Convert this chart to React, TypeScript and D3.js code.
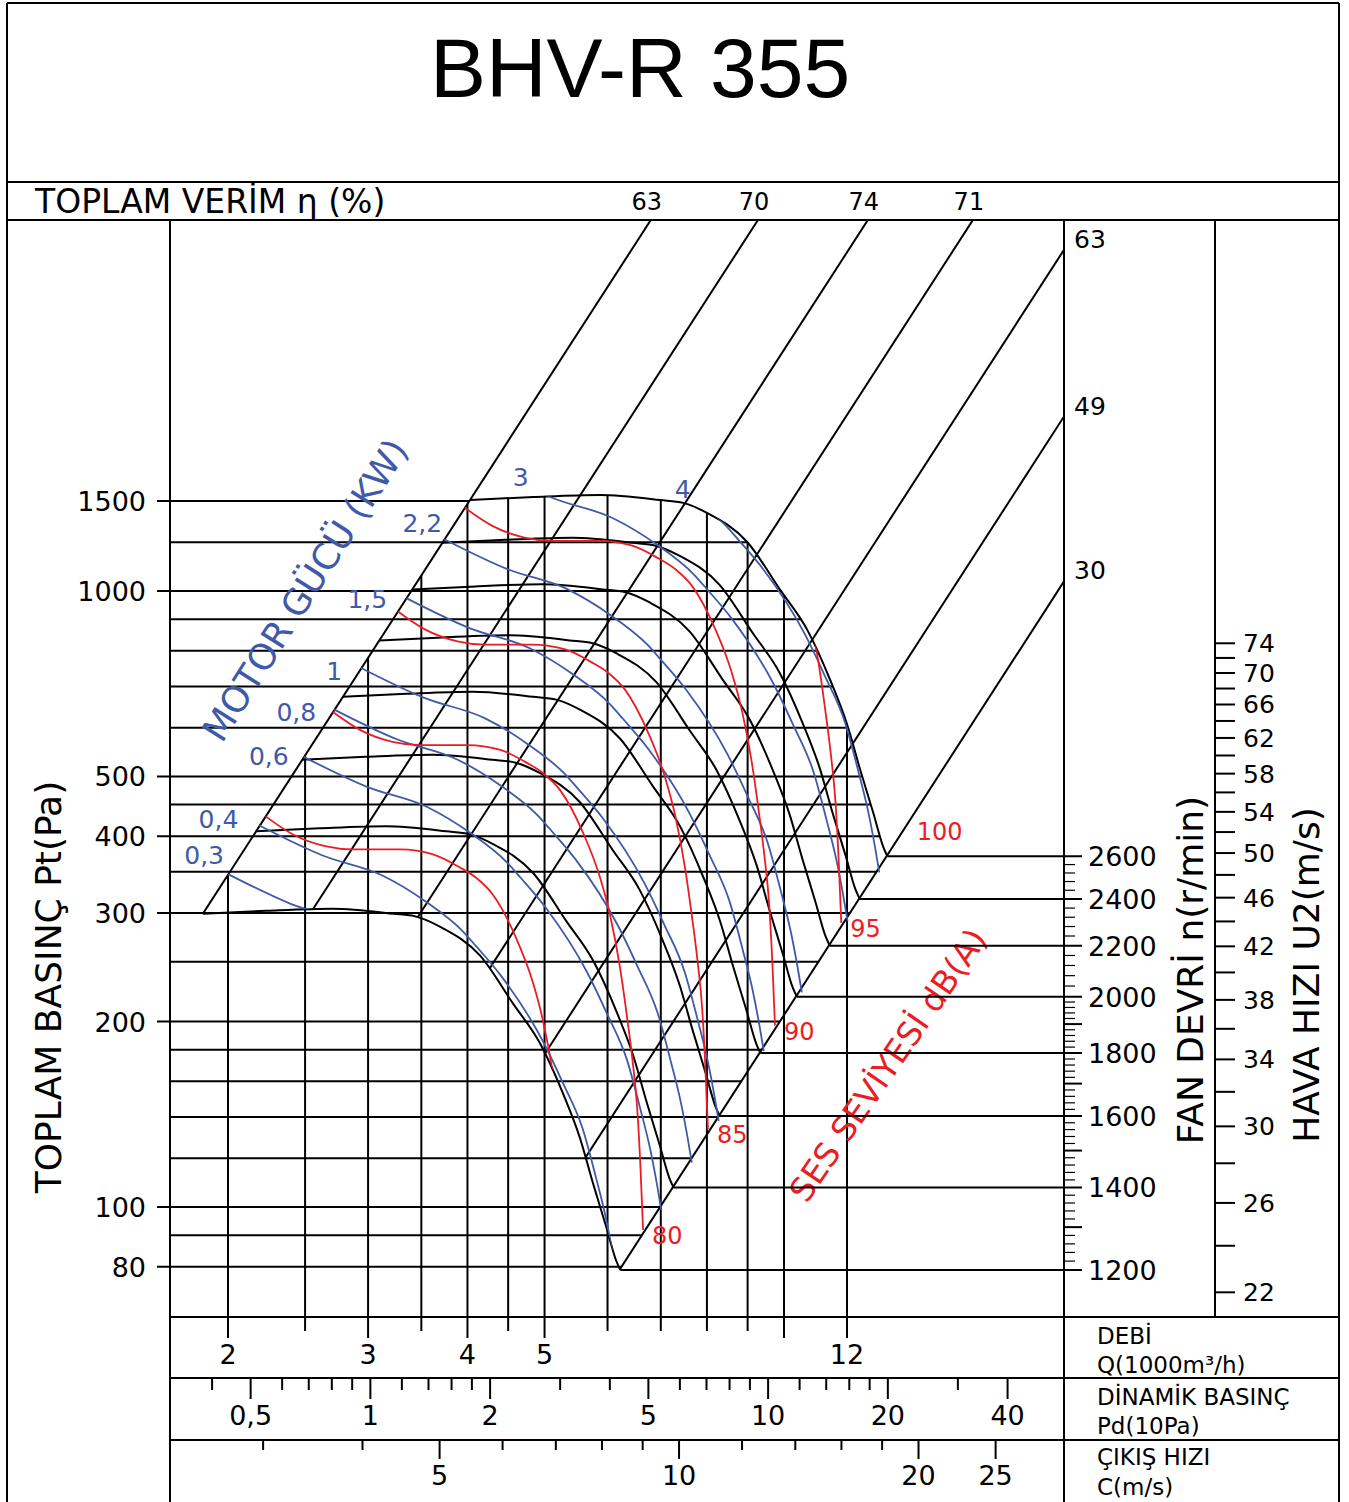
import * as d3 from 'd3';

// 2600 r/min fan curve: Q (1000 m3/h) and Pt (Pa)
const curveQ = [4.03, 4.84, 5.87, 6.99, 7.47, 8.01, 8.99, 9.89, 10.7, 11.43, 12.01, 12.47, 12.95, 13.33, 13.49];
const curveP = [1405, 1421, 1432, 1405, 1390, 1338, 1201, 1004, 864, 717, 606, 512, 436, 384, 371];
const refRpm = 2600;
const rpmList = [1200, 1400, 1600, 1800, 2000, 2200, 2400, 2600];

// efficiency parabolas (P ~ Q^2), each given by the Q where it crosses 300 Pa
const effLabels = ['63', '70', '74', '71', '63', '49', '30'];
const effQ300 = [1.862, 2.539, 3.49, 4.73, 6.51, 8.89, 12.1];

// motor power lines: one shape, placed by the Q where each line leaves the left edge
const kwLabels = ['0,3', '0,4', '0,6', '0,8', '1', '1,5', '2,2', '3', '4'];
const kwStartQ = [2.0, 2.19, 2.49, 2.72, 2.94, 3.35, 3.74, 4.27, 4.68];
const kwShapeQ = [2.49, 2.99, 3.56, 4.03, 4.49, 4.66, 5.01, 5.66, 5.99, 6.35, 6.6, 6.79, 6.93, 7.01];
const kwShapeP = [538, 481, 446, 405, 362, 343, 307, 240, 206, 173, 144, 124, 108, 98.9];

// sound level lines dB(A)
const dbLevels = [75, 80, 85, 90, 95, 100];
const dbStartQ = [2.23, 2.71, 3.27, 3.97, 4.81, 5.83];
const dbLabelLevels = [80, 85, 90, 95, 100];
const dbShapeQ = [2.71, 2.93, 3.22, 3.49, 4.0, 4.4, 4.75, 4.98, 5.23, 5.59, 5.87, 6.05, 6.22, 6.35, 6.45, 6.54, 6.6, 6.65];
const dbShapeP = [636, 595, 569, 562, 562, 552, 526, 506, 475, 405, 343, 296, 245, 203, 173, 144, 116, 91.8];

// grid and axes
const gridP = [80, 90, 100, 120, 140, 160, 180, 200, 250, 300, 350, 400, 450, 500, 600, 700, 800, 900, 1000, 1200, 1400];
const yTickP = [80, 100, 200, 300, 400, 500, 1000, 1400];
const yTickText = ['80', '100', '200', '300', '400', '500', '1000', '1500']; // the chart prints 1500 on this line
const gridQ = [2, 2.5, 3, 3.5, 4, 4.5, 5, 6, 7, 8, 9, 10, 12];
const qLabelValues = [2, 3, 4, 5, 12];
const qLongTicks = [2, 3, 4, 5, 10, 12];
const pdTicks = [0.4, 0.5, 0.6, 0.7, 0.8, 0.9, 1, 1.2, 1.4, 1.6, 1.8, 2, 3, 4, 5, 6, 7, 8, 9, 10, 12, 14, 16, 18, 20, 30, 40];
const pdLabelValues = [0.5, 1, 2, 5, 10, 20, 40];
const pdQAtOne = 3.02;
const cTicks = [3, 4, 5, 6, 7, 8, 9, 10, 12, 14, 16, 18, 20, 25];
const cLabelValues = [5, 10, 20, 25];
const cPerQ = 1.355;
const u2Ticks = [22, 24, 26, 28, 30, 32, 34, 36, 38, 40, 42, 44, 46, 48, 50, 52, 54, 56, 58, 60, 62, 64, 66, 68, 70, 72, 74];
const u2LabelValues = [22, 26, 30, 34, 38, 42, 46, 50, 54, 58, 62, 66, 70, 74];
const u2AtRef = 49.7;

const BLUE = '#3f5aa8';
const RED = '#ec1c24';
const FONT = "'DejaVu Sans', Verdana, sans-serif";

type Pt = [number, number];

export default function App() {
  const x = d3.scaleLog().domain([2, 12]).range([228, 847]);
  const y = d3.scaleLog().domain([100, 1000]).range([1207, 591]);
  const line = d3.line<Pt>().curve(d3.curveMonotoneX);
  const fmt = (v: number) => String(v).replace('.', ',');

  // fan laws: Q ~ n, P ~ n^2
  const toPx = (qs: number[], ps: number[], r: number): Pt[] =>
    qs.map((q, i) => [x(q * r), y(ps[i] * r * r)]);

  const qEnd = curveQ[curveQ.length - 1];
  const pEnd = curveP[curveP.length - 1];
  const top = toPx(curveQ, curveP, 1);
  const low = toPx(curveQ, curveP, rpmList[0] / refRpm);
  const topPath = line(top) as string;
  const lowPath = line(low) as string;
  const asL = (d: string) => 'L' + d.slice(1);
  const parab = (q300: number, p: number) => q300 * Math.sqrt(p / 300);

  const d1 = effQ300[0];
  const d7 = effQ300[effQ300.length - 1];
  const d1Far: Pt = [x(parab(d1, 30)), y(30)];
  const d7Far: Pt = [x(parab(d7, 10)), y(10)];
  const [sx, sy] = top[0];
  const [ex, ey] = top[top.length - 1];
  const [lx, ly] = low[0];
  const [, ley] = low[low.length - 1];

  const clipUnderTop = `M-1000,-1000L${sx},-1000L${sx},${sy}${asL(topPath)}L3000,${ey}L3000,3000L-1000,3000Z`;
  const clipAboveLow = `M-1000,-1000L-1000,${ly}L${lx},${ly}${asL(lowPath)}L3000,${ley}L3000,-1000Z`;
  const clipBelowEnv = `M${d1Far[0]},${d1Far[1]}L${sx},${sy}${asL(topPath)}L3000,${ey}L3000,3000L-1000,3000L-1000,${d1Far[1]}Z`;
  const clipLeftEnv = `M-1000,-1000L${sx},-1000L${sx},${sy}${asL(topPath)}L${ex},${ey}L${d7Far[0]},${d7Far[1]}L-1000,${d7Far[1]}Z`;

  const topY = (px: number) => {
    if (px < top[0][0]) return -Infinity;
    for (let i = 1; i < top.length; i++) {
      if (px <= top[i][0]) {
        const [x0, y0] = top[i - 1];
        const [x1, y1] = top[i];
        return y0 + ((y1 - y0) * (px - x0)) / (x1 - x0);
      }
    }
    return Infinity;
  };
  const firstInside = (pts: Pt[]): Pt => {
    for (let i = 0; i < pts.length; i++) {
      if (pts[i][1] >= topY(pts[i][0])) {
        if (i === 0) return pts[0];
        const [xa, ya] = pts[i - 1];
        const [xb, yb] = pts[i];
        const da = ya - topY(xa);
        const db = yb - topY(xb);
        const t = da / (da - db);
        return [xa + t * (xb - xa), ya + t * (yb - ya)];
      }
    }
    return pts[pts.length - 1];
  };

  const kwLines = kwStartQ.map((q) => toPx(kwShapeQ, kwShapeP, q / kwShapeQ[0]));
  const dbLines = dbStartQ.map((q) => toPx(dbShapeQ, dbShapeP, q / dbShapeQ[0]));
  const kwLabelNudge: Pt[] = [[-4, -10], [-21, 2], [-15, 8], [-18, 11], [-19, 12], [-19, 10], [-2, -7], [-21, -11], [-37, -30]];

  const yRpm = (n: number) => y(pEnd * (n / refRpm) ** 2);
  const yU2 = (u: number) => y(pEnd * (u / u2AtRef) ** 2);
  const xPd = (pd: number) => x(pdQAtOne * Math.sqrt(pd));
  const xC = (c: number) => x(c / cPerQ);

  const rpmMinor = [...d3.range(1220, 2000, 20), ...d3.range(2040, 2600, 40)].filter((n) => n % 100 !== 0);
  const rpmMid = [1300, 1500, 1700, 1900];

  const yTop = y.invert(220);
  const xRight = x.invert(1064);

  const K = '#000';
  const sw = 2;

  return (
    <svg width={1349} height={1502} style={{ position: 'absolute', left: 0, top: 0, background: '#fff' }} fontFamily={FONT}>
      <defs>
        <clipPath id="underTop"><path d={clipUnderTop} /></clipPath>
        <clipPath id="aboveLow"><path d={clipAboveLow} /></clipPath>
        <clipPath id="belowEnv"><path d={clipBelowEnv} /></clipPath>
        <clipPath id="leftEnv"><path d={clipLeftEnv} /></clipPath>
        <clipPath id="plot"><rect x={170} y={220} width={894} height={1097} /></clipPath>
      </defs>
      <rect x={0} y={0} width={1349} height={1502} fill="#fff" />

      {/* frame */}
      <g stroke={K} strokeWidth={sw}>
        <line x1={7} y1={3} x2={1339} y2={3} />
        <line x1={7} y1={3} x2={7} y2={1502} />
        <line x1={1339} y1={3} x2={1339} y2={1502} />
        <line x1={7} y1={182} x2={1339} y2={182} />
        <line x1={7} y1={220} x2={1339} y2={220} />
        <line x1={170} y1={220} x2={170} y2={1502} />
        <line x1={1064} y1={220} x2={1064} y2={1502} />
        <line x1={1215} y1={220} x2={1215} y2={1317} />
        <line x1={170} y1={1317} x2={1339} y2={1317} />
        <line x1={170} y1={1378} x2={1339} y2={1378} />
        <line x1={170} y1={1440} x2={1339} y2={1440} />
      </g>

      <text x={640} y={97} textAnchor="middle" fontSize={84} fontFamily="'Liberation Sans', Arial, sans-serif">BHV-R 355</text>
      <text x={35} y={213} fontSize={33}>TOPLAM VERİM η (%)</text>

      {/* horizontal grid */}
      <g clipPath="url(#leftEnv)" stroke={K} strokeWidth={sw}>
        {gridP.map((p) => {
          const labeled = yTickP.includes(p);
          const xEnd = p >= curveP[0] * 0.99 ? x(parab(d1, p)) : 1064;
          return <line key={p} x1={labeled ? 157 : 170} x2={xEnd} y1={y(p)} y2={y(p)} />;
        })}
      </g>
      {/* vertical grid */}
      <g clipPath="url(#belowEnv)" stroke={K} strokeWidth={sw}>
        {gridQ.map((q) => <line key={q} x1={x(q)} x2={x(q)} y1={220} y2={1317} />)}
      </g>

      {/* efficiency parabolas */}
      <g clipPath="url(#plot)">
        <g clipPath="url(#aboveLow)" stroke={K} strokeWidth={sw}>
          {effQ300.map((q, i) => (
            <line key={i} x1={x(parab(q, 10))} y1={y(10)} x2={x(parab(q, 1e5))} y2={y(1e5)} />
          ))}
        </g>
      </g>
      {effQ300.map((q, i) => {
        const qt = parab(q, yTop);
        if (qt <= xRight) {
          return <text key={i} x={x(qt) - 4} y={210} textAnchor="middle" fontSize={24}>{effLabels[i]}</text>;
        }
        const pr = 300 * (xRight / q) ** 2;
        return <text key={i} x={1074} y={y(pr) - 2} fontSize={25}>{effLabels[i]}</text>;
      })}

      {/* rpm curves */}
      <g fill="none" stroke={K} strokeWidth={sw}>
        {rpmList.map((n) => <path key={n} d={line(toPx(curveQ, curveP, n / refRpm)) as string} />)}
      </g>

      {/* power and sound lines */}
      <g clipPath="url(#underTop)">
        <g clipPath="url(#aboveLow)" fill="none" strokeWidth={1.8}>
          {kwLines.map((pts, i) => <path key={'k' + i} d={line(pts) as string} stroke={BLUE} />)}
          {dbLines.map((pts, i) => <path key={'d' + i} d={line(pts) as string} stroke={RED} />)}
        </g>
      </g>

      {kwLines.map((pts, i) => {
        const s = firstInside(pts);
        return (
          <text key={i} x={s[0] + kwLabelNudge[i][0]} y={s[1] + kwLabelNudge[i][1]} textAnchor="end" fontSize={25} fill={BLUE}>
            {kwLabels[i]}
          </text>
        );
      })}
      {dbLabelLevels.map((db) => {
        const pts = dbLines[dbLevels.indexOf(db)];
        const e = pts[pts.length - 1];
        return <text key={db} x={e[0] + 9} y={e[1] + (db === 100 ? 20 : 14)} fontSize={24} fill={RED}>{db}</text>;
      })}

      <text transform="translate(305,590) rotate(-57.6)" textAnchor="middle" dy="0.35em" fontSize={36} fill={BLUE}>MOTOR GÜCÜ (KW)</text>
      <text transform="translate(888,1065) rotate(-55.6)" textAnchor="middle" dy="0.35em" fontSize={33} fill={RED}>SES SEVİYESİ dB(A)</text>

      {/* left axis */}
      {yTickP.map((p, i) => (
        <text key={p} x={146} y={y(p) + 10} textAnchor="end" fontSize={27}>{yTickText[i]}</text>
      ))}
      <text transform="translate(48,987) rotate(-90)" textAnchor="middle" dy="0.35em" fontSize={36}>TOPLAM BASINÇ Pt(Pa)</text>

      {/* rpm axis */}
      <g stroke={K} strokeWidth={sw}>
        {rpmList.map((n) => {
          const r = n / refRpm;
          return <line key={n} x1={x(qEnd * r)} y1={y(pEnd * r * r)} x2={1082} y2={y(pEnd * r * r)} />;
        })}
        {rpmMid.map((n) => <line key={n} x1={1064} x2={1082} y1={yRpm(n)} y2={yRpm(n)} />)}
      </g>
      <g stroke={K} strokeWidth={1.2}>
        {rpmMinor.map((n) => <line key={n} x1={1064} x2={1075} y1={yRpm(n)} y2={yRpm(n)} />)}
      </g>
      {rpmList.map((n) => <text key={n} x={1088} y={yRpm(n) + 10} fontSize={27}>{n}</text>)}
      <text transform="translate(1190,970) rotate(-90)" textAnchor="middle" dy="0.35em" fontSize={36}>FAN DEVRİ n(r/min)</text>

      {/* U2 axis */}
      <g stroke={K} strokeWidth={sw}>
        {u2Ticks.map((u) => <line key={u} x1={1215} x2={1235} y1={yU2(u)} y2={yU2(u)} />)}
      </g>
      {u2LabelValues.map((u) => <text key={u} x={1243} y={yU2(u) + 9} fontSize={25}>{u}</text>)}
      <text transform="translate(1306,975) rotate(-90)" textAnchor="middle" dy="0.35em" fontSize={36}>HAVA HIZI U2(m/s)</text>

      {/* bottom scales */}
      <g stroke={K} strokeWidth={sw}>
        {gridQ.map((q) => <line key={q} x1={x(q)} x2={x(q)} y1={1317} y2={qLongTicks.includes(q) ? 1338 : 1331} />)}
        {pdTicks.map((v) => <line key={v} x1={xPd(v)} x2={xPd(v)} y1={1378} y2={pdLabelValues.includes(v) ? 1399 : 1390} />)}
        {cTicks.map((v) => <line key={v} x1={xC(v)} x2={xC(v)} y1={1440} y2={cLabelValues.includes(v) ? 1459 : 1450} />)}
      </g>
      {qLabelValues.map((q) => <text key={q} x={x(q)} y={1364} textAnchor="middle" fontSize={27}>{q}</text>)}
      {pdLabelValues.map((v) => <text key={v} x={xPd(v)} y={1425} textAnchor="middle" fontSize={27}>{fmt(v)}</text>)}
      {cLabelValues.map((v) => <text key={v} x={xC(v)} y={1485} textAnchor="middle" fontSize={27}>{v}</text>)}

      <g fontSize={23}>
        <text x={1097} y={1344}>DEBİ</text>
        <text x={1097} y={1373}>Q(1000m³/h)</text>
        <text x={1097} y={1405}>DİNAMİK BASINÇ</text>
        <text x={1097} y={1434}>Pd(10Pa)</text>
        <text x={1097} y={1465}>ÇIKIŞ HIZI</text>
        <text x={1097} y={1495}>C(m/s)</text>
      </g>
    </svg>
  );
}
